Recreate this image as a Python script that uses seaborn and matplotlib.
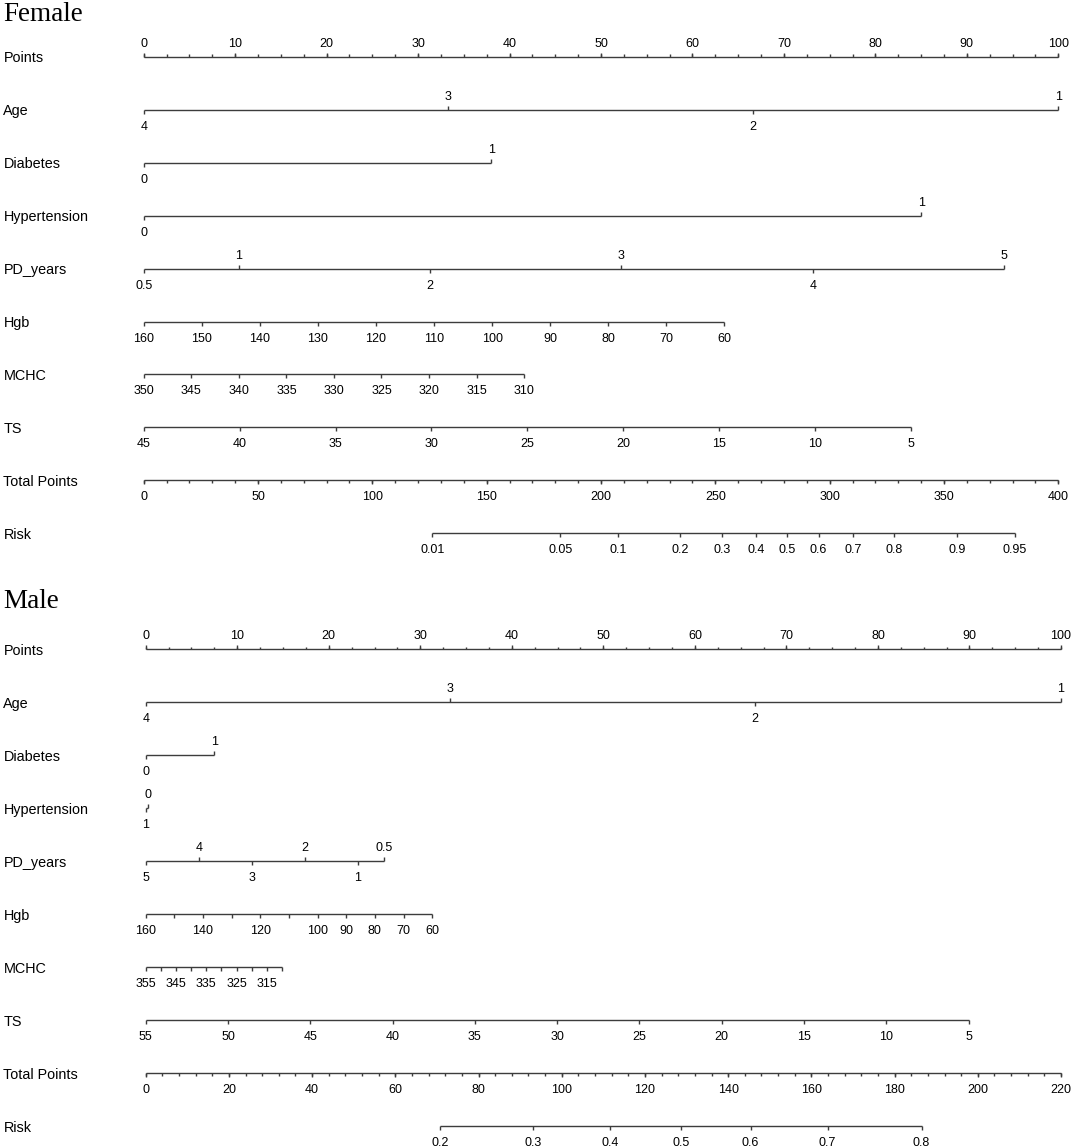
import numpy as np
import matplotlib
matplotlib.use("Agg")
import matplotlib.pyplot as plt
import seaborn as sns

# ---------------- Female nomogram ----------------
f_age_lab = ["4", "3", "2", "1"]
f_age_pts = [0, 33.3, 66.6, 100]
f_diab_lab = ["0", "1"]
f_diab_pts = [0, 38.0]
f_htn_lab = ["0", "1"]
f_htn_pts = [0, 85.0]
f_pd_lab = ["0.5", "1", "2", "3", "4", "5"]
f_pd_pts = [0, 10.4, 31.3, 52.2, 73.2, 94.1]
f_hgb_val = [160, 150, 140, 130, 120, 110, 100, 90, 80, 70, 60]
f_hgb_lab = ["160", "150", "140", "130", "120", "110", "100", "90", "80", "70", "60"]
f_hgb_end = 63.5
f_mchc_val = [350, 345, 340, 335, 330, 325, 320, 315, 310]
f_mchc_lab = ["350", "345", "340", "335", "330", "325", "320", "315", "310"]
f_mchc_end = 41.6
f_ts_val = [45, 40, 35, 30, 25, 20, 15, 10, 5]
f_ts_lab = ["45", "40", "35", "30", "25", "20", "15", "10", "5"]
f_ts_end = 83.9
f_total_max = 400
f_total_major = [0, 50, 100, 150, 200, 250, 300, 350, 400]
f_total_minor_step = 10
f_risk_val = [0.01, 0.05, 0.1, 0.2, 0.3, 0.4, 0.5, 0.6, 0.7, 0.8, 0.9, 0.95]
f_risk_tp = [126.3, 182.2, 207.3, 234.7, 252.8, 267.8, 281.4, 295.2, 310.1, 328.3, 355.8, 380.9]

# ---------------- Male nomogram ----------------
m_age_lab = ["4", "3", "2", "1"]
m_age_pts = [0, 33.3, 66.6, 100]
m_diab_lab = ["0", "1"]
m_diab_pts = [0, 7.5]
m_htn_lab = ["1", "0"]
m_htn_pts = [0, 0.3]
m_pd_lab = ["5", "4", "3", "2", "1", "0.5"]
m_pd_pts = [0, 5.8, 11.6, 17.4, 23.2, 26.0]
m_hgb_val = [160, 150, 140, 130, 120, 110, 100, 90, 80, 70, 60]
m_hgb_lab = ["160", "", "140", "", "120", "", "100", "90", "80", "70", "60"]
m_hgb_end = 31.3
m_mchc_val = [355, 350, 345, 340, 335, 330, 325, 320, 315, 310]
m_mchc_lab = ["355", "", "345", "", "335", "", "325", "", "315", ""]
m_mchc_end = 14.9
m_ts_val = [55, 50, 45, 40, 35, 30, 25, 20, 15, 10, 5]
m_ts_lab = ["55", "50", "45", "40", "35", "30", "25", "20", "15", "10", "5"]
m_ts_end = 89.9
m_total_max = 220
m_total_major = [0, 20, 40, 60, 80, 100, 120, 140, 160, 180, 200, 220]
m_total_minor_step = 4
m_risk_val = [0.2, 0.3, 0.4, 0.5, 0.6, 0.7, 0.8]
m_risk_tp = [70.8, 93.2, 111.6, 128.6, 145.4, 163.9, 186.5]

row_names = ["Points", "Age", "Diabetes", "Hypertension", "PD_years",
             "Hgb", "MCHC", "TS", "Total Points", "Risk"]

sns.set_theme(style="white")
plt.rcParams["font.family"] = ["Liberation Sans", "DejaVu Sans"]
plt.rcParams["text.color"] = "black"

LINE = "#3c3c3c"
LW = 1.0
TICK_FS = 9.0
NAME_FS = 10.4


def linear_pts(vals, end_pts):
    vals = np.asarray(vals, dtype=float)
    return (vals[0] - vals) / (vals[0] - vals[-1]) * end_pts


def scale_row(ax, y, pos, labels, side, minor=()):
    pos = list(pos)
    ax.hlines(y, min(pos), max(pos), color=LINE, lw=LW)
    for mp in minor:
        d = -2.5 if side == "above" else 2.5
        ax.vlines(mp, y, y + d, color=LINE, lw=LW)
    for i, (p, lab) in enumerate(zip(pos, labels)):
        s = side
        if side == "alt":
            s = "below" if i % 2 == 0 else "above"
        if s == "above":
            ax.vlines(p, y - 4, y, color=LINE, lw=LW)
            ax.text(p, y - 10, lab, ha="center", va="baseline", fontsize=TICK_FS)
        else:
            ax.vlines(p, y, y + 4, color=LINE, lw=LW)
            ax.text(p, y + 20, lab, ha="center", va="baseline", fontsize=TICK_FS)


def nomogram(ax, title, y0, gap, title_y, rows):
    x0 = ax.get_xlim()[0]
    ax.text(x0 + 2.8 / PX[title], title_y, title, ha="left", va="baseline",
            fontsize=19.5, family=["Liberation Serif", "DejaVu Serif"])
    for i, (name, row) in enumerate(zip(row_names, rows)):
        y = y0 + i * gap
        ax.text(x0 + 3.4 / PX[title], y + 5.5, name, ha="left",
                va="baseline", fontsize=NAME_FS)
        scale_row(ax, y, *row)


fig = plt.figure(figsize=(10.72, 11.48), dpi=100)

# pixel position of "0 points" and pixels per point for each panel
ORIGIN = {"Female": 143.7, "Male": 145.7}
PX = {"Female": 9.146, "Male": 9.153}


def make_ax(title):
    ax = fig.add_axes([0, 0, 1, 1])
    ax.set_xlim(-ORIGIN[title] / PX[title], (1072 - ORIGIN[title]) / PX[title])
    ax.set_ylim(1148, 0)
    ax.axis("off")
    ax.patch.set_alpha(0)
    return ax


pts_major = list(range(0, 101, 10))
pts_minor = list(np.arange(0, 100.1, 2.5))

# ---- Female
ax_f = make_ax("Female")
f_rows = [
    (pts_major, [str(v) for v in pts_major], "above", pts_minor),
    (f_age_pts, f_age_lab, "alt"),
    (f_diab_pts, f_diab_lab, "alt"),
    (f_htn_pts, f_htn_lab, "alt"),
    (f_pd_pts, f_pd_lab, "alt"),
    (linear_pts(f_hgb_val, f_hgb_end), f_hgb_lab, "below"),
    (linear_pts(f_mchc_val, f_mchc_end), f_mchc_lab, "below"),
    (linear_pts(f_ts_val, f_ts_end), f_ts_lab, "below"),
    (np.array(f_total_major) / f_total_max * 100, [str(v) for v in f_total_major], "below",
     np.arange(0, f_total_max + 1, f_total_minor_step) / f_total_max * 100),
    (np.array(f_risk_tp) / f_total_max * 100, [f"{v:g}" for v in f_risk_val], "below"),
]
nomogram(ax_f, "Female", 56.7, 52.96, 20.7, f_rows)

# ---- Male
ax_m = make_ax("Male")
m_rows = [
    (pts_major, [str(v) for v in pts_major], "above", pts_minor),
    (m_age_pts, m_age_lab, "alt"),
    (m_diab_pts, m_diab_lab, "alt"),
    (m_htn_pts, m_htn_lab, "alt"),
    (m_pd_pts, m_pd_lab, "alt"),
    (linear_pts(m_hgb_val, m_hgb_end), m_hgb_lab, "below"),
    (linear_pts(m_mchc_val, m_mchc_end), m_mchc_lab, "below"),
    (linear_pts(m_ts_val, m_ts_end), m_ts_lab, "below"),
    (np.array(m_total_major) / m_total_max * 100, [str(v) for v in m_total_major], "below",
     np.arange(0, m_total_max + 1, m_total_minor_step) / m_total_max * 100),
    (np.array(m_risk_tp) / m_total_max * 100, [f"{v:g}" for v in m_risk_val], "below"),
]
nomogram(ax_m, "Male", 649.3, 53.0, 608.3, m_rows)

fig.savefig("out.png", dpi=100, facecolor="white")
